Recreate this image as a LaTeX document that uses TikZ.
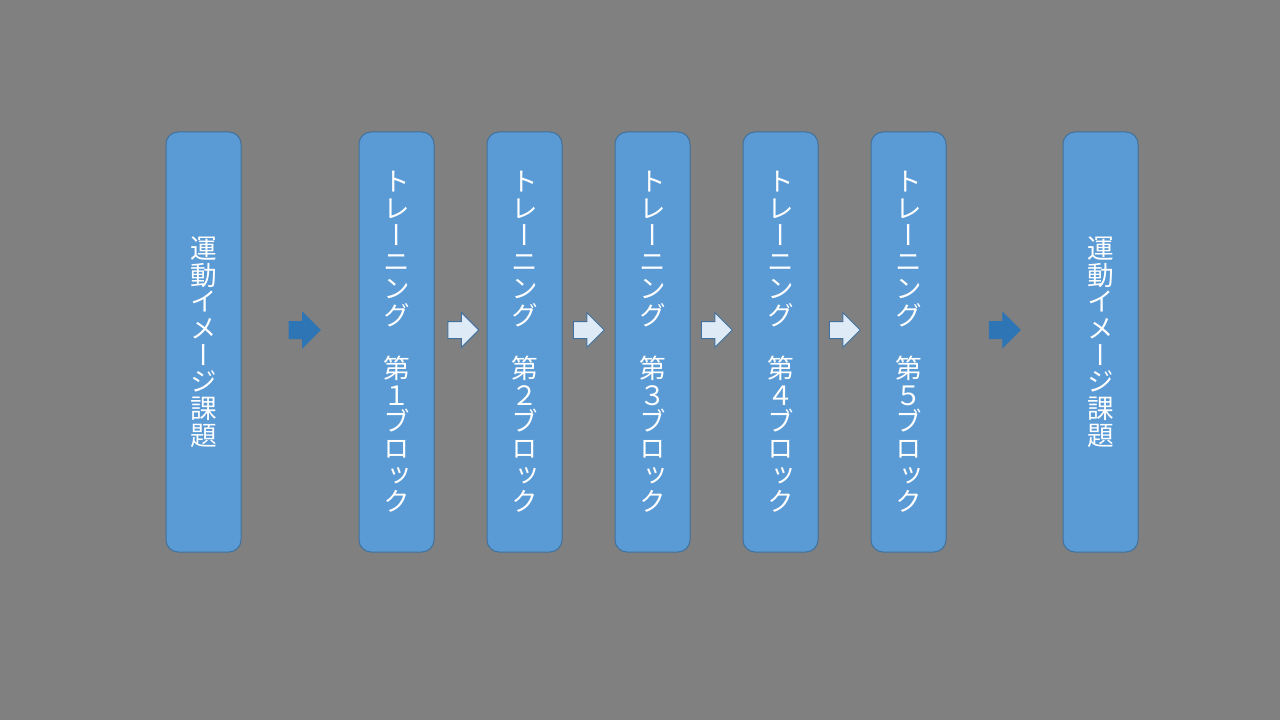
\documentclass[tikz,border=0pt]{standalone}
\usepackage{fontspec}
\newfontfamily\jpfont[RawFeature=+vert]{Noto Sans CJK JP}
\usetikzlibrary{positioning, shapes.arrows, calc}
\definecolor{slidegray}{HTML}{808080}
\definecolor{boxblue}{HTML}{5B9BD5}
\definecolor{boxline}{HTML}{41719C}
\definecolor{arrowdark}{HTML}{2E75B6}
\definecolor{arrowlight}{HTML}{DEEBF7}
\tikzset{
block/.style={draw=boxline, fill=boxblue, line width=0.75pt, rounded corners=9pt, minimum width=56.25pt, minimum height=315pt, inner sep=0pt, text=white, align=center, font=\jpfont\fontsize{20}{20}\selectfont}, % the tall blue boxes
bigarrow/.style={single arrow, inner sep=0pt, text height=12pt, text depth=0pt, minimum height=23.25pt, minimum width=25.5pt, single arrow head extend=6.75pt, line width=0.75pt, yshift=9pt, xshift=-3pt}, % block arrow shape
darkarrow/.style={bigarrow, fill=arrowdark, draw=arrowdark}, % arrows before and after training
lightarrow/.style={bigarrow, fill=arrowlight, draw=boxline}, % arrows between training blocks
}

\begin{document}
\begin{tikzpicture}[x=0.75pt, y=-0.75pt]
        % slide background
        \fill[slidegray] (0,0) rectangle (1280,720);
        \useasboundingbox (0,0) rectangle (1280,720);

        % Imagery task (before)
        \node[block] (task1) at (203.5,342) {運\\動\\イ\\メ\\ー\\ジ\\課\\題};

        % Training blocks
        \node[block, right of=task1, node distance=144.75pt] (train1) {ト\\レ\\ー\\ニ\\ン\\グ\\　\\第\\１\\ブ\\ロ\\ッ\\ク};
        \node[block, right of=train1, node distance=96pt] (train2) {ト\\レ\\ー\\ニ\\ン\\グ\\　\\第\\２\\ブ\\ロ\\ッ\\ク};
        \node[block, right of=train2, node distance=96pt] (train3) {ト\\レ\\ー\\ニ\\ン\\グ\\　\\第\\３\\ブ\\ロ\\ッ\\ク};
        \node[block, right of=train3, node distance=96pt] (train4) {ト\\レ\\ー\\ニ\\ン\\グ\\　\\第\\４\\ブ\\ロ\\ッ\\ク};
        \node[block, right of=train4, node distance=96pt] (train5) {ト\\レ\\ー\\ニ\\ン\\グ\\　\\第\\５\\ブ\\ロ\\ッ\\ク};

        % Imagery task (after)
        \node[block, right of=train5, node distance=144pt] (task2) {運\\動\\イ\\メ\\ー\\ジ\\課\\題};

        % arrows in the gaps
        \node[darkarrow, xshift=3.25pt] (go1) at ($(task1.east)!0.5!(train1.west)$) {};
        \node[lightarrow, xshift=2pt] (go2) at ($(train1.east)!0.5!(train2.west)$) {};
        \node[lightarrow] (go3) at ($(train2.east)!0.5!(train3.west)$) {};
        \node[lightarrow] (go4) at ($(train3.east)!0.5!(train4.west)$) {};
        \node[lightarrow] (go5) at ($(train4.east)!0.5!(train5.west)$) {};
        \node[darkarrow] (go6) at ($(train5.east)!0.5!(task2.west)$) {};
    \end{tikzpicture}
\end{document}
